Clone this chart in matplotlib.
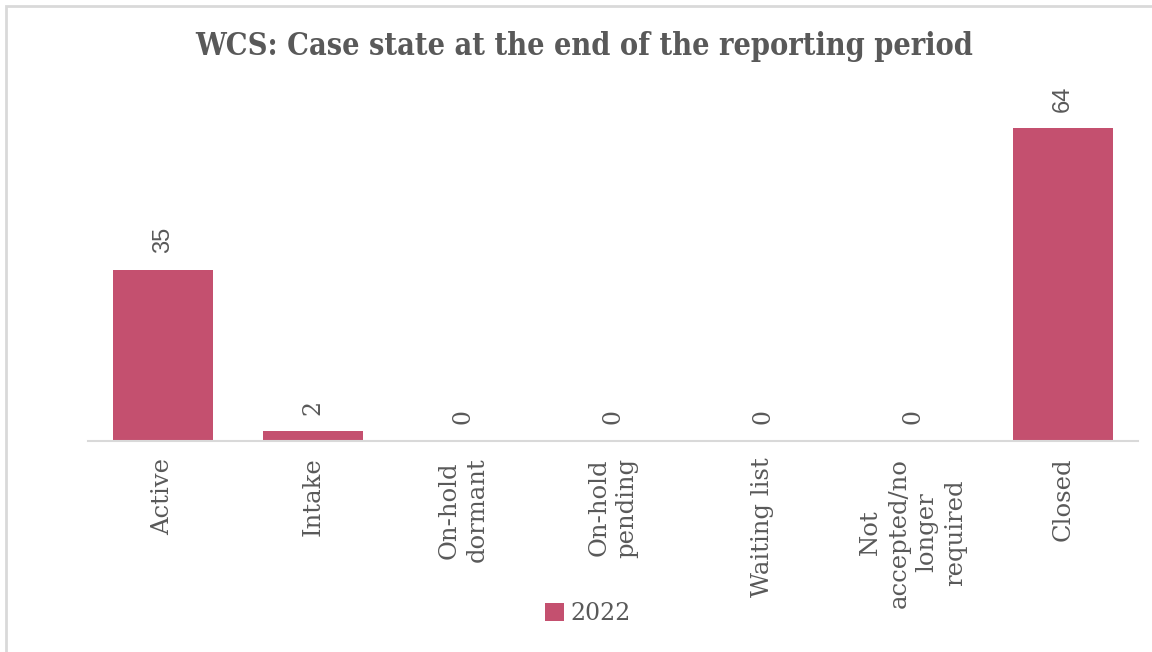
import matplotlib
matplotlib.use("Agg")
import matplotlib.pyplot as plt
from matplotlib.patches import Rectangle

categories = ["Active", "Intake", "On-hold\ndormant", "On-hold\npending",
              "Waiting list", "Not\naccepted/no\nlonger\nrequired", "Closed"]
values = [35, 2, 0, 0, 0, 0, 64]
series_name = "2022"
title = "WCS: Case state at the end of the reporting period"

BAR = "#C4506F"
TXT = "#595959"
GRID = "#D9D9D9"
W, H = 1152, 652

fig = plt.figure(figsize=(W / 100, H / 100), dpi=100)
ax = fig.add_axes([88 / W, 1 - 441 / H, 1050 / W, (441 - 99) / H])

x = list(range(len(categories)))
ax.bar(x, values, width=0.667, color=BAR, zorder=2)
ax.set_xlim(-0.5, len(categories) - 0.5)
ax.set_ylim(0, 70)

for s in ["top", "right", "left"]:
    ax.spines[s].set_visible(False)
ax.spines["bottom"].set_color(GRID)
ax.spines["bottom"].set_linewidth(1.5)
ax.set_yticks([])
ax.set_xticks(x)
ax.set_xticklabels([])
ax.tick_params(axis="x", length=0)

for xi, lab in zip(x, categories):
    ax.annotate(lab, xy=(xi, 0), xycoords="data", xytext=(0, -12),
                textcoords="offset points", rotation=90, ha="center", va="top",
                multialignment="center", fontsize=17.5, color=TXT,
                family="DejaVu Serif", linespacing=1.3)

for xi, v in zip(x, values):
    fam = "Liberation Sans" if v >= 10 else "DejaVu Serif"
    ax.annotate(str(v), xy=(xi, v), xycoords="data", xytext=(0, 12),
                textcoords="offset points", rotation=90, ha="center", va="bottom",
                fontsize=17, color=TXT, family=fam)

fig.text(584 / W, 1 - 46 / H, title, ha="center", va="center",
         fontsize=22, fontweight="heavy", color=TXT, family="DejaVu Serif",
         fontstretch="condensed")

handle = Rectangle((0, 0), 1, 1, facecolor=BAR, edgecolor="none")
leg = fig.legend([handle], [series_name], loc="center", bbox_to_anchor=(588 / W, 1 - 614 / H),
                 frameon=False, handlelength=0.8, handleheight=0.8, handletextpad=0.3,
                 prop={"family": "DejaVu Serif", "size": 17})
for t in leg.get_texts():
    t.set_color(TXT)

fig.add_artist(Rectangle((6 / W, -0.1), 1.2, (1 - 6 / H) + 0.1, transform=fig.transFigure,
                         fill=False, edgecolor=GRID, linewidth=2))

fig.savefig("out.png", dpi=100, facecolor="white")
